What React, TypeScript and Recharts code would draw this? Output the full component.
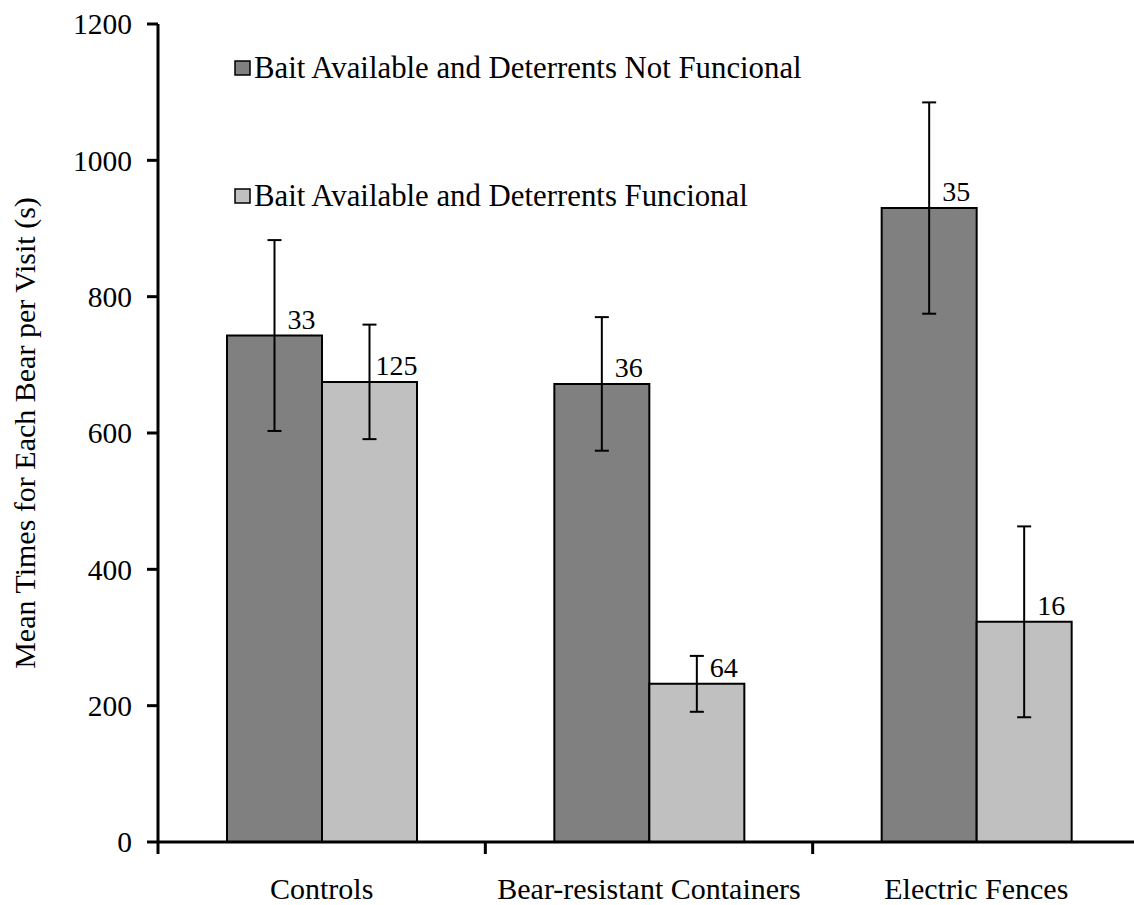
import React from 'react';
import { BarChart, Bar, XAxis, YAxis, ErrorBar, LabelList } from 'recharts';

const categories = ['Controls', 'Bear-resistant Containers', 'Electric Fences'];
const seriesNames = [
  'Bait Available and Deterrents Not Funcional',
  'Bait Available and Deterrents Funcional',
];
const notFunctional = [743, 672, 930];
const notFunctionalErr = [140, 98, 155];
const notFunctionalN = [33, 36, 35];
const functional = [675, 232, 323];
const functionalErr = [84, 41, 140];
const functionalN = [125, 64, 16];
const yTicks = [0, 200, 400, 600, 800, 1000, 1200];

const data = categories.map((name, i) => ({
  name,
  nf: notFunctional[i],
  nfErr: notFunctionalErr[i],
  nfN: notFunctionalN[i],
  f: functional[i],
  fErr: functionalErr[i],
  fN: functionalN[i],
}));

const FONT = '"Liberation Serif", "Times New Roman", serif';
const W = 1140;
const H = 905;
const LEFT = 158;
const TOP = 24;
const X_AXIS_H = 63;
const BAND = (W - LEFT) / categories.length;
const colors = ['#808080', '#C0C0C0'];

// category label plus the divider tick between groups
const CategoryTick = (props: any) => {
  const { x, y, payload } = props;
  const edge = x - BAND / 2;
  return (
    <g>
      <line x1={edge} y1={y} x2={edge} y2={y + 12} stroke="#000" strokeWidth={3} />
      <text x={x} y={y + 57} textAnchor="middle" fontSize={30} fontFamily={FONT} fill="#000">
        {payload.value}
      </text>
    </g>
  );
};

const CountLabel = (props: any) => {
  const { x, y, width, value } = props;
  return (
    <text x={x + width / 2 + 27} y={y - 7} textAnchor="middle" fontSize={28} fontFamily={FONT} fill="#000">
      {value}
    </text>
  );
};

const YTitle = (props: any) => {
  const vb = props.viewBox || { x: 0, y: TOP, width: LEFT, height: H - TOP - X_AXIS_H };
  const cx = 35;
  const cy = vb.y + vb.height / 2;
  return (
    <text
      x={cx}
      y={cy}
      transform={`rotate(-90, ${cx}, ${cy})`}
      textAnchor="middle"
      fontSize={30}
      fontFamily={FONT}
      fill="#000"
    >
      Mean Times for Each Bear per Visit (s)
    </text>
  );
};

export default function App() {
  return (
    <div style={{ position: 'absolute', left: 0, top: 0, width: 1134, height: 905, overflow: 'hidden', background: '#fff' }}>
      <BarChart
        width={W}
        height={H}
        data={data}
        margin={{ top: TOP, right: 0, bottom: 0, left: 0 }}
        barSize={95}
        barGap={0}
      >
        <XAxis
          dataKey="name"
          height={X_AXIS_H}
          tickSize={0}
          tickMargin={0}
          tickLine={false}
          axisLine={{ stroke: '#000', strokeWidth: 3 }}
          tick={<CategoryTick />}
          interval={0}
        />
        <YAxis
          width={LEFT}
          domain={[0, 1200]}
          ticks={yTicks}
          interval={0}
          tickSize={11}
          tickMargin={15}
          axisLine={{ stroke: '#000', strokeWidth: 3 }}
          tickLine={{ stroke: '#000', strokeWidth: 3 }}
          tick={{ fill: '#000', fontSize: 29.5, fontFamily: FONT }}
          label={<YTitle />}
        />
        <Bar dataKey="nf" name={seriesNames[0]} fill={colors[0]} stroke="#000" strokeWidth={2} isAnimationActive={false}>
          <ErrorBar dataKey="nfErr" width={7} stroke="#000" strokeWidth={2} />
          <LabelList dataKey="nfN" content={<CountLabel />} />
        </Bar>
        <Bar dataKey="f" name={seriesNames[1]} fill={colors[1]} stroke="#000" strokeWidth={2} isAnimationActive={false}>
          <ErrorBar dataKey="fErr" width={7} stroke="#000" strokeWidth={2} />
          <LabelList dataKey="fN" content={<CountLabel />} />
        </Bar>
        {seriesNames.map((s, i) => (
          <g key={s}>
            <rect x={235} y={61 + i * 128} width={15} height={14} fill={colors[i]} stroke="#000" strokeWidth={1.5} />
            <text x={254} y={78 + i * 128} fontSize={30.8} fontFamily={FONT} fill="#000">
              {s}
            </text>
          </g>
        ))}
      </BarChart>
    </div>
  );
}
